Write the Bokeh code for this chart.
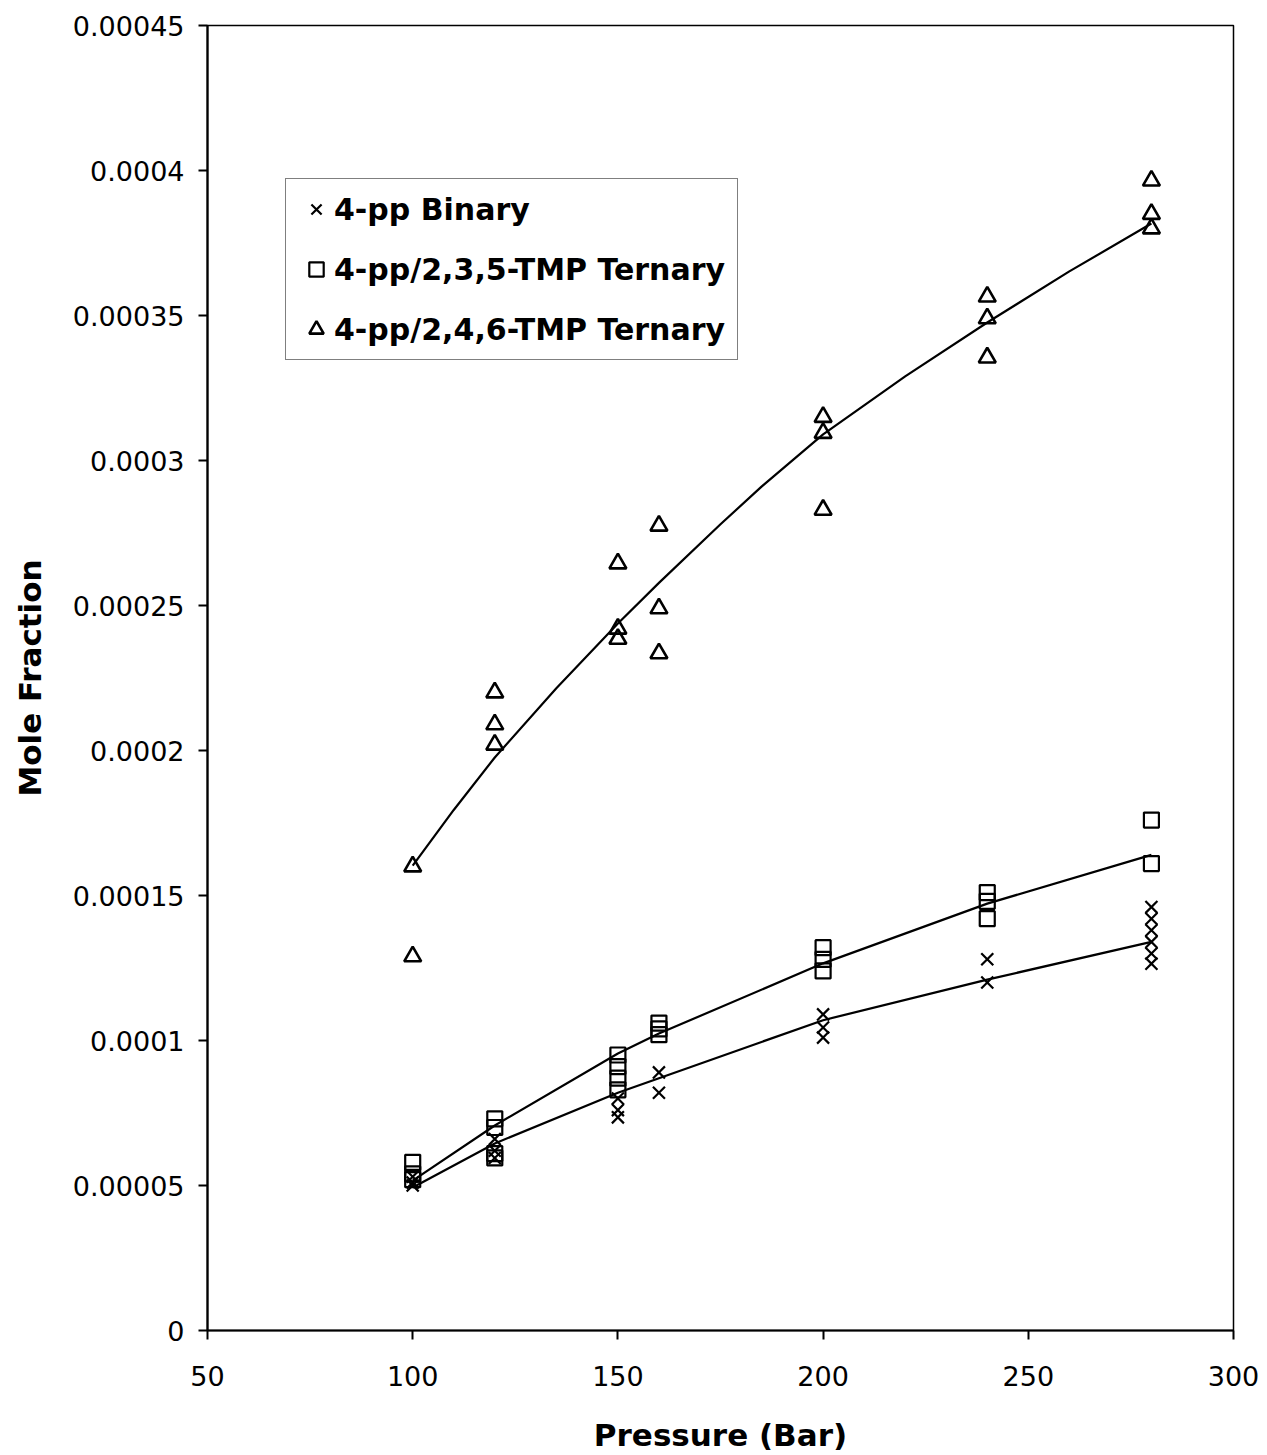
from bokeh.plotting import figure
from bokeh.models import FixedTicker, Legend, LegendItem
from bokeh.embed import file_html
from bokeh.resources import INLINE

# ---- data ----
pressure_binary = [100, 100, 100, 120, 120, 120, 150, 150, 150, 160, 160,
                   200, 200, 200, 240, 240, 280, 280, 280, 280, 280, 280]
binary = [5.3e-5, 5.1e-5, 5.0e-5, 6.6e-5, 6.2e-5, 5.95e-5, 8.0e-5, 7.6e-5, 7.35e-5,
          8.9e-5, 8.2e-5, 1.09e-4, 1.045e-4, 1.01e-4, 1.28e-4, 1.2e-4,
          1.46e-4, 1.42e-4, 1.38e-4, 1.34e-4, 1.3e-4, 1.265e-4]

pressure_235 = [100, 100, 100, 120, 120, 120, 120, 150, 150, 150, 150,
                160, 160, 160, 200, 200, 200, 240, 240, 240, 280, 280]
tmp235 = [5.8e-5, 5.4e-5, 5.2e-5, 7.3e-5, 7.0e-5, 6.1e-5, 5.95e-5, 9.5e-5, 9.1e-5,
          8.7e-5, 8.3e-5, 1.06e-4, 1.04e-4, 1.02e-4, 1.32e-4, 1.28e-4, 1.24e-4,
          1.51e-4, 1.48e-4, 1.42e-4, 1.76e-4, 1.61e-4]

pressure_246 = [100, 100, 120, 120, 120, 150, 150, 150, 160, 160, 160,
                200, 200, 200, 240, 240, 240, 280, 280, 280]
tmp246 = [1.6e-4, 1.29e-4, 2.2e-4, 2.09e-4, 2.02e-4, 2.645e-4, 2.42e-4, 2.385e-4,
          2.775e-4, 2.49e-4, 2.335e-4, 3.15e-4, 3.095e-4, 2.83e-4,
          3.565e-4, 3.49e-4, 3.355e-4, 3.965e-4, 3.85e-4, 3.8e-4]

fit_pressure = [100, 120, 150, 160, 200, 240, 280]
fit_binary = [4.93e-5, 6.45e-5, 8.2e-5, 8.7e-5, 1.07e-4, 1.21e-4, 1.34e-4]
fit_235 = [5.17e-5, 7.07e-5, 9.55e-5, 1.024e-4, 1.266e-4, 1.472e-4, 1.64e-4]
fit_246_pressure = [100, 110, 120, 135, 150, 160, 175, 185, 200, 220, 240, 260, 280]
fit_246 = [1.603e-4, 1.795e-4, 1.976e-4, 2.215e-4, 2.438e-4, 2.578e-4, 2.78e-4,
           2.91e-4, 3.09e-4, 3.29e-4, 3.476e-4, 3.652e-4, 3.817e-4]

x_ticks = [50, 100, 150, 200, 250, 300]
y_ticks = [0, 0.00005, 0.0001, 0.00015, 0.0002, 0.00025, 0.0003, 0.00035, 0.0004, 0.00045]
y_tick_labels = ["0", "0.00005", "0.0001", "0.00015", "0.0002", "0.00025",
                 "0.0003", "0.00035", "0.0004", "0.00045"]

labels = ["4-pp Binary", "4-pp/2,3,5-TMP Ternary", "4-pp/2,4,6-TMP Ternary"]

FONT = "DejaVu Sans"

p = figure(width=1267, height=1455, output_backend="svg", toolbar_location=None,
           x_range=(50, 300), y_range=(0, 0.00045),
           min_border_left=207, min_border_right=34, min_border_top=25, min_border_bottom=125,
           x_axis_label="Pressure (Bar)", y_axis_label="Mole Fraction")

p.xgrid.visible = False
p.ygrid.visible = False
p.outline_line_color = "black"
p.outline_line_width = 1.5
p.background_fill_color = "white"
p.border_fill_color = "white"

for ax in (p.xaxis[0], p.yaxis[0]):
    ax.axis_line_width = 2.2
    ax.axis_line_color = "black"
    ax.major_tick_line_width = 2
    ax.major_tick_out = 9
    ax.major_tick_in = 0
    ax.minor_tick_line_color = None
    ax.major_label_text_font = FONT
    ax.major_label_text_font_size = "27px"
    ax.major_label_text_color = "black"
    ax.axis_label_text_font = FONT
    ax.axis_label_text_font_style = "bold"
    ax.axis_label_text_font_size = "31px"
    ax.axis_label_text_color = "black"

p.xaxis[0].ticker = FixedTicker(ticks=x_ticks)
p.yaxis[0].ticker = FixedTicker(ticks=y_ticks)
p.yaxis[0].major_label_overrides = {t: s for t, s in zip(y_ticks, y_tick_labels)}
p.yaxis[0].major_label_standoff = 14
p.xaxis[0].major_label_standoff = 26
p.yaxis[0].axis_label_standoff = 22
p.xaxis[0].axis_label_standoff = 28

# fit curves
p.line(fit_pressure, fit_binary, line_color="black", line_width=2.2)
p.line(fit_pressure, fit_235, line_color="black", line_width=2.2)
p.line(fit_246_pressure, fit_246, line_color="black", line_width=2.2)

# data points
r1 = p.scatter(pressure_binary, binary, marker="x", size=17, line_color="black",
               line_width=2.2)
r2 = p.scatter(pressure_235, tmp235, marker="square", size=15, line_color="black",
               fill_color=None, line_width=2.2)
r3 = p.scatter(pressure_246, tmp246, marker="triangle", size=17, line_color="black",
               fill_color=None, line_width=2.6)

legend = Legend(items=[LegendItem(label=labels[0], renderers=[r1]),
                       LegendItem(label=labels[1], renderers=[r2]),
                       LegendItem(label=labels[2], renderers=[r3])],
                location=(78, 970))
legend.label_text_font = FONT
legend.label_text_font_style = "bold"
legend.label_text_font_size = "30px"
legend.label_text_color = "black"
legend.glyph_width = 36
legend.glyph_height = 36
legend.label_height = 36
legend.label_standoff = 0
legend.spacing = 24
legend.padding = 12
legend.margin = 0
legend.border_line_color = "black"
legend.border_line_width = 1.2
legend.background_fill_color = "white"
legend.background_fill_alpha = 1.0
p.add_layout(legend, "center")

open("out.html", "w").write(file_html(p, INLINE))
